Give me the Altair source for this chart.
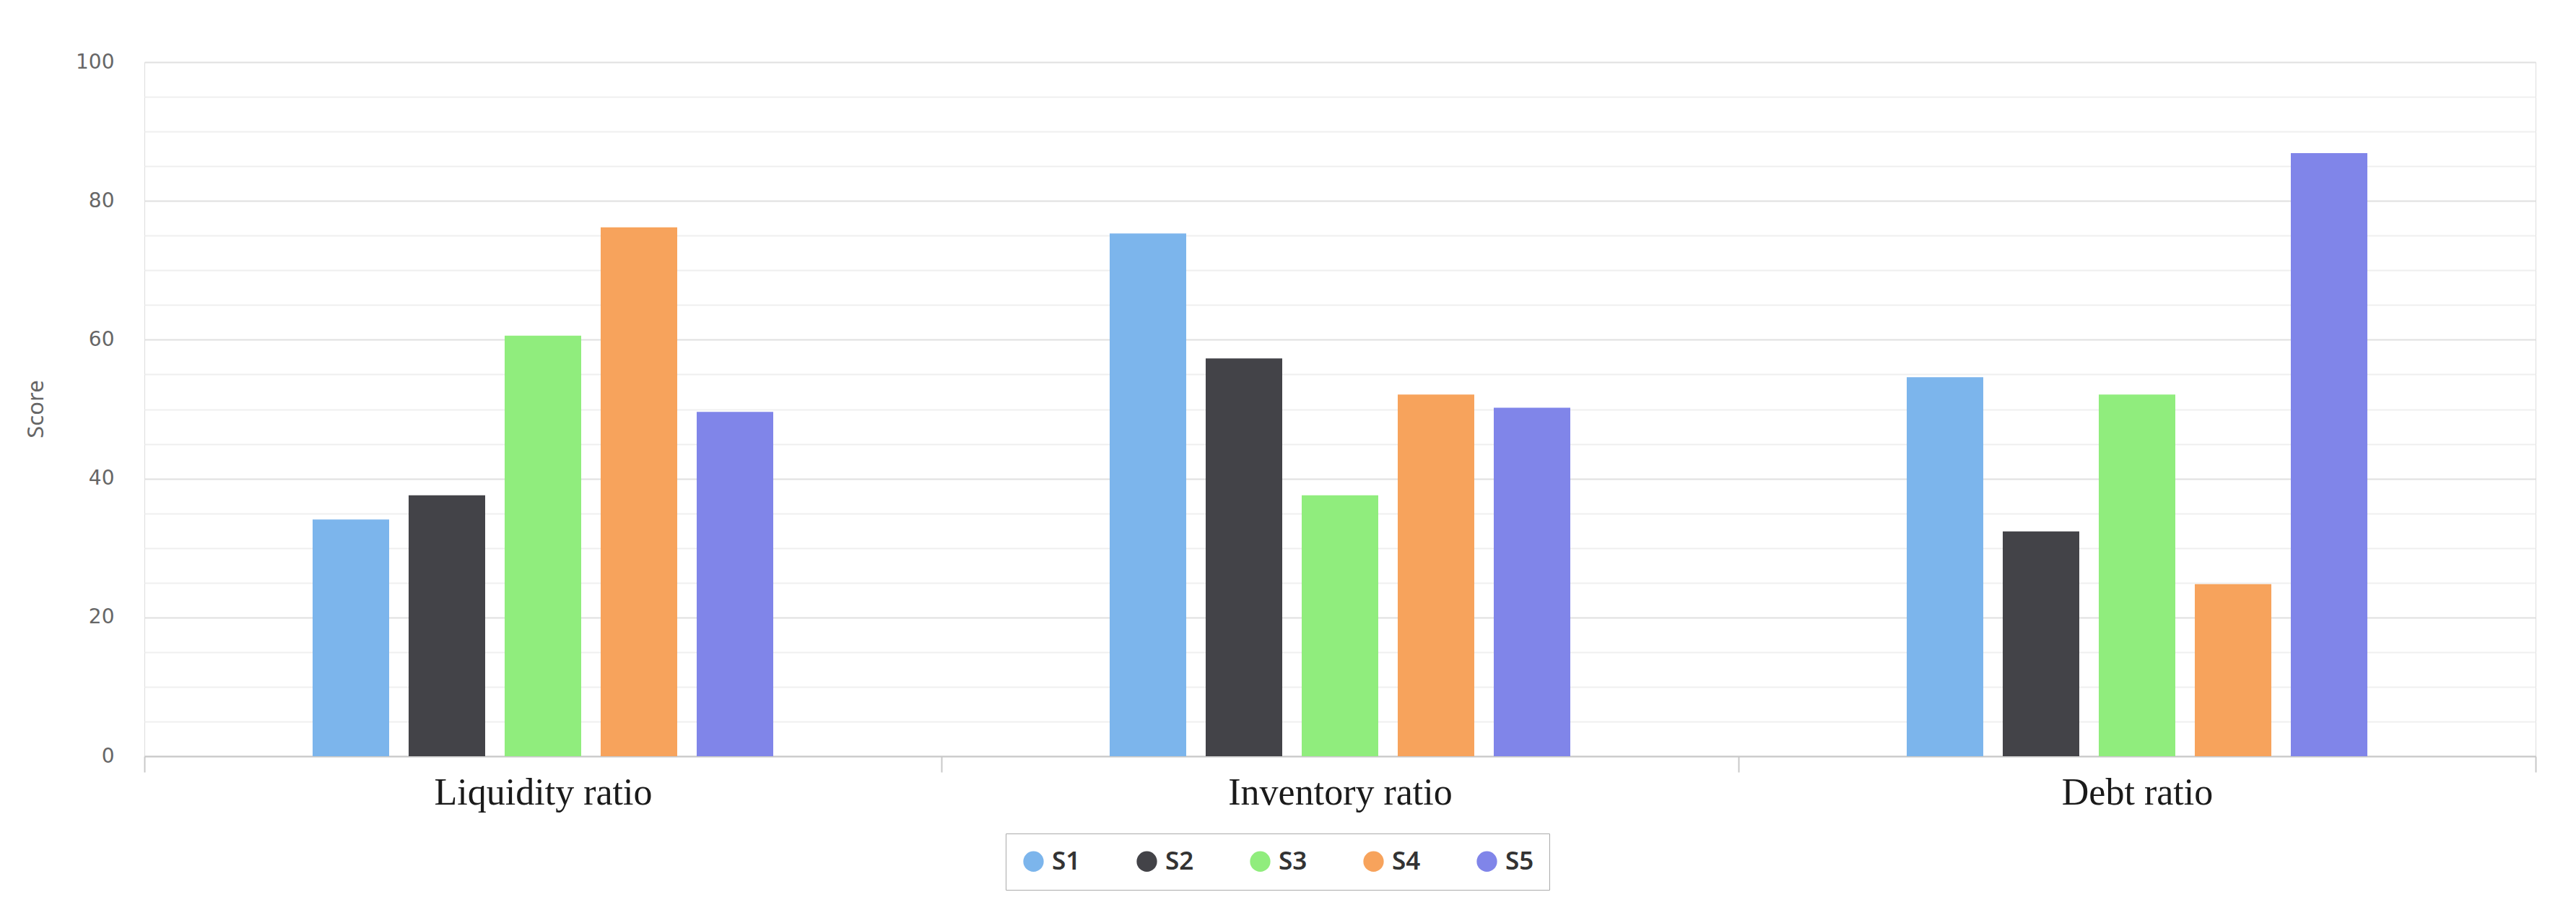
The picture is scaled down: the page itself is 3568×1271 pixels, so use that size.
import altair as alt
import pandas as pd

categories = ["Liquidity ratio", "Inventory ratio", "Debt ratio"]
series = ["S1", "S2", "S3", "S4", "S5"]
S1 = [34.1, 75.3, 54.6]
S2 = [37.6, 57.3, 32.4]
S3 = [60.6, 37.6, 52.1]
S4 = [76.2, 52.1, 24.8]
S5 = [49.6, 50.2, 86.9]
colors = ["#7cb5ec", "#434348", "#90ed7d", "#f7a35c", "#8085e9"]

rows = []
for s, vals in zip(series, [S1, S2, S3, S4, S5]):
    for c, v in zip(categories, vals):
        rows.append({"category": c, "series": s, "value": v})
df = pd.DataFrame(rows)

chart = alt.Chart(df).mark_bar().encode(
    x=alt.X(
        "category:N",
        sort=categories,
        scale=alt.Scale(paddingInner=0, paddingOuter=0),
        axis=alt.Axis(
            title=None,
            labelAngle=0,
            labelLimit=0,
            labelFont="Liberation Serif",
            labelFontSize=52,
            labelColor="#1a1a1a",
            tickBand="extent",
            tickSize=22,
            tickWidth=2,
            tickColor="#c8c8c8",
            domainColor="#c8c8c8",
            domainWidth=2,
            labelPadding=3,
            grid=False,
        ),
    ),
    xOffset=alt.XOffset(
        "series:N",
        sort=series,
        scale=alt.Scale(range=[233, 871], paddingInner=0.203, paddingOuter=0),
    ),
    y=alt.Y(
        "value:Q",
        scale=alt.Scale(domain=[0, 100], nice=False),
        axis=alt.Axis(
            title="Score",
            values=list(range(0, 101, 5)),
            labelExpr="datum.value % 20 === 0 ? datum.label : ''",
            labelFont="DejaVu Sans",
            labelFontSize=28,
            labelColor="#666666",
            labelPadding=42,
            domain=False,
            ticks=False,
            gridColor={"condition": {"test": "datum.value % 20 === 0", "value": "#e0e0e0"}, "value": "#efefef"},
            gridWidth=2,
            titleFont="Noto Sans",
            titleFontSize=31,
            titleFontWeight="normal",
            titleColor="#666666",
            titleAngle=270,
            titleX=-134,
            titleY=480,
            titleAlign="center",
            titleBaseline="bottom",
        ),
    ),
    color=alt.Color(
        "series:N",
        scale=alt.Scale(domain=series, range=colors),
        legend=alt.Legend(
            title=None,
            orient="none",
            legendX=1193,
            legendY=1068,
            direction="horizontal",
            symbolType="circle",
            symbolSize=800,
            symbolStrokeWidth=0,
            symbolOpacity=1,
            labelFont="Noto Sans",
            labelFontSize=35,
            labelFontWeight=600,
            labelColor="#333333",
            labelOffset=8,
            columnPadding=74,
            padding=21,
            strokeColor="#aaaaaa",
            fillColor="white",
        ),
    ),
).properties(
    width=3312,
    height=961,
    autosize=alt.AutoSizeParams(type="none"),
    padding={"left": 192, "top": 78, "right": 48, "bottom": 216},
).configure_view(stroke=None).configure(background="white")

chart.save("out.html", embed_options={"renderer": "svg", "actions": False})
